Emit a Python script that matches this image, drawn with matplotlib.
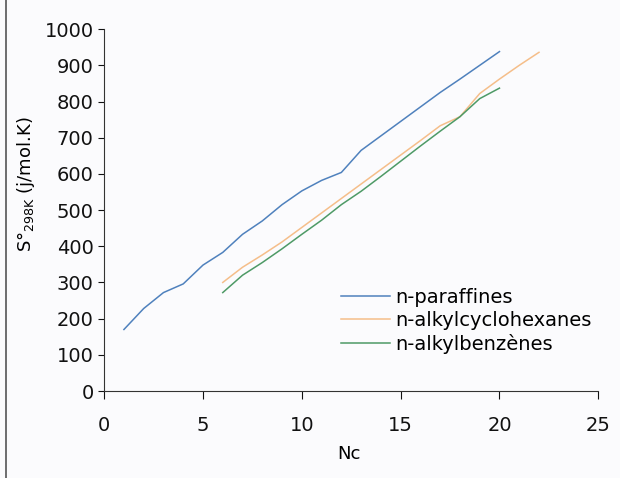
import numpy as np
import matplotlib.pyplot as plt
from matplotlib.lines import Line2D

plt.rcParams['font.family'] = ['DejaVu Sans']

# values
nc_paraffines = [1, 2, 3, 4, 5, 6, 7, 8, 9, 10, 11, 12, 13, 14, 15, 16, 17, 18, 19, 20]
s_paraffines = [170, 228, 272, 296, 348, 383, 433, 470, 515, 553, 582, 604, 665,
                705, 745, 785, 825, 862, 900, 938]

nc_cyclohex = [6, 7, 8, 9, 10, 11, 12, 13, 14, 15, 16, 17, 18, 19, 20, 21, 22]
s_cyclohex = [300, 342, 376, 412, 452, 492, 532, 572, 612, 652, 692, 733, 758,
              822, 862, 900, 936]

nc_benz = [6, 7, 8, 9, 10, 11, 12, 13, 14, 15, 16, 17, 18, 19, 20]
s_benz = [272, 320, 355, 393, 433, 472, 515, 552, 593, 635, 677, 718, 758, 808, 837]

labels = ['n-paraffines', 'n-alkylcyclohexanes', 'n-alkylbenzènes']
colors = ['#4F81BD', '#F5BE8A', '#4E9A66']
bg = '#fbfbfd'

fig = plt.figure(figsize=(6.2, 4.78), dpi=100, facecolor=bg)
ax = fig.add_axes([0.168, 0.182, 0.797, 0.757], facecolor=bg)

ax.plot(nc_paraffines, s_paraffines, color=colors[0], lw=1.1, label=labels[0])
ax.plot(nc_cyclohex, s_cyclohex, color=colors[1], lw=1.1, label=labels[1])
ax.plot(nc_benz, s_benz, color=colors[2], lw=1.1, label=labels[2])

ax.set_xlim(0, 25)
ax.set_ylim(0, 1000)
ax.set_xticks(np.arange(0, 26, 5))
ax.set_yticks(np.arange(0, 1001, 100))
ax.spines['top'].set_visible(False)
ax.spines['right'].set_visible(False)
for s in ['left', 'bottom']:
    ax.spines[s].set_color('#333333')
ax.tick_params(direction='out', length=4, labelsize=14, colors='#111111')
ax.tick_params(axis='x', length=6, pad=12)

ax.set_xlabel('Nc', fontsize=13)
ax.set_ylabel(r'S°$_{\mathregular{298K}}$ (j/mol.K)', fontsize=13)
ax.xaxis.set_label_coords(0.495, -0.15)
ax.yaxis.set_label_coords(-0.135, 0.57)

ax.legend(loc='lower right', bbox_to_anchor=(1.015, 0.065), frameon=False,
          fontsize=14, handlelength=2.5, handletextpad=0.3, labelspacing=0.2,
          borderpad=0.2)

fig.add_artist(Line2D([0.01, 0.01], [0, 1], color='#555555', lw=1.2))

fig.savefig('out.png', dpi=100, facecolor=bg)
